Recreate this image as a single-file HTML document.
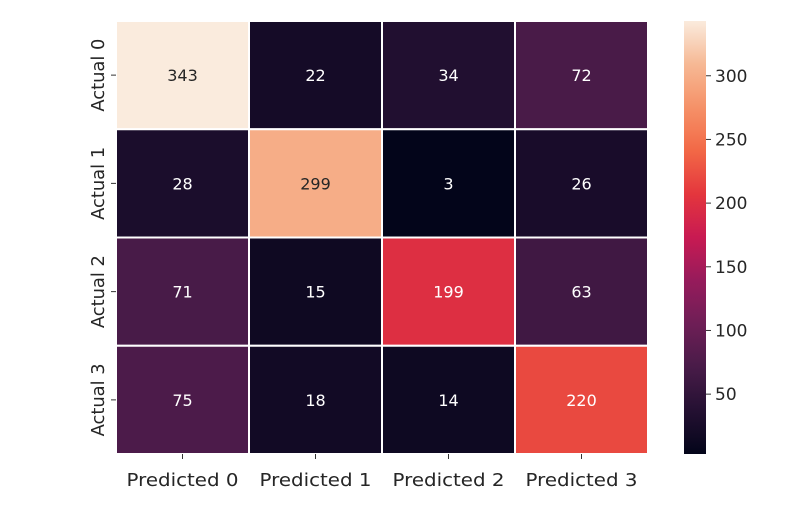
<!DOCTYPE html>
<html><head><meta charset="utf-8"><style>
html,body{margin:0;padding:0;background:#fff;}
svg{display:block;font-family:"DejaVu Sans","Liberation Sans",sans-serif;}
</style></head><body>
<svg id="chart" width="810" height="510" viewBox="0 0 810 510" xmlns="http://www.w3.org/2000/svg"></svg>
<script>
const rowLabels = ["Actual 0","Actual 1","Actual 2","Actual 3"];
const colLabels = ["Predicted 0","Predicted 1","Predicted 2","Predicted 3"];
const row0 = [343,22,34,72];
const row1 = [28,299,3,26];
const row2 = [71,15,199,63];
const row3 = [75,18,14,220];
const cbTicks = [50,100,150,200,250,300];

const values = [row0,row1,row2,row3];
const L=116,T=21,R=648,B=454, CBL=684, CBR=706;
const all = values.flat();
const vmin = Math.min(...all), vmax = Math.max(...all);
const cw=(R-L)/colLabels.length, ch=(B-T)/rowLabels.length;
const xs=i=>L+i*cw, ys=j=>T+j*ch;
const cbY=v=>B-(v-vmin)/(vmax-vmin)*(B-T);
const stops=[[3,5,26],[36,16,50],[72,27,72],[110,30,86],[150,27,91],[200,26,82],[228,54,61],[242,104,70],[245,145,104],[246,184,148],[250,235,221]];
function cmap(t){t=Math.max(0,Math.min(1,t));const p=t*10,i=Math.min(9,Math.floor(p)),f=p-i;const a=stops[i],b=stops[i+1];
return [0,1,2].map(k=>Math.round(a[k]+(b[k]-a[k])*f));}
const svg=document.getElementById('chart');const NS="http://www.w3.org/2000/svg";
function mk(tag,attrs,parent){const e=document.createElementNS(NS,tag);for(const k in attrs)e.setAttribute(k,attrs[k]);(parent||svg).appendChild(e);return e;}
values.forEach((row,j)=>row.forEach((v,i)=>{
 const c=cmap((v-vmin)/(vmax-vmin));
 const r=mk('rect',{x:xs(i),y:ys(j),width:cw,height:ch,fill:`rgb(${c})`,stroke:'#fff','stroke-width':2});
 
 
 const lum=0.2126*c[0]/255+0.7152*c[1]/255+0.0722*c[2]/255;
 const t=mk('text',{x:xs(i)+cw/2,y:ys(j)+ch/2+6,'text-anchor':'middle','font-size':16,fill:lum<0.55?'#fff':'#262626'});
 t.textContent=v;
 
 
}));
colLabels.forEach((s,i)=>{
 const cx=xs(i)+cw/2;
 mk('line',{x1:cx,x2:cx,y1:B,y2:B+5,stroke:'#333','stroke-width':1});
 const t=mk('text',{x:cx,y:B+32,'text-anchor':'middle','font-size':18,fill:'#262626',textLength:112,lengthAdjust:'spacingAndGlyphs'});
 t.textContent=s;
 
 
});
rowLabels.forEach((s,j)=>{
 const cy=ys(j)+ch/2;
 mk('line',{x1:L-5,x2:L,y1:cy,y2:cy,stroke:'#333','stroke-width':1});
 const t=mk('text',{x:0,y:0,'text-anchor':'middle','font-size':18,fill:'#262626',textLength:73,lengthAdjust:'spacingAndGlyphs',transform:`translate(${L-12},${cy}) rotate(-90)`});
 t.textContent=s;
 
 
});
const defs=mk('defs',{});
const g=mk('linearGradient',{id:'cbg',x1:0,y1:1,x2:0,y2:0},defs);
for(let k=0;k<=20;k++){const c=cmap(k/20);mk('stop',{offset:k/20,'stop-color':`rgb(${c})`},g);}
const cb=mk('rect',{x:CBL,y:T,width:CBR-CBL,height:B-T,fill:'url(#cbg)'});


cbTicks.forEach(v=>{
 const y=cbY(v);
 mk('line',{x1:CBR,x2:CBR+5,y1:y,y2:y,stroke:'#333','stroke-width':1});
 const t=mk('text',{x:CBR+9,y:y+6,'font-size':17,fill:'#262626'});
 t.textContent=v;
 
 
});
</script>
</body></html>
